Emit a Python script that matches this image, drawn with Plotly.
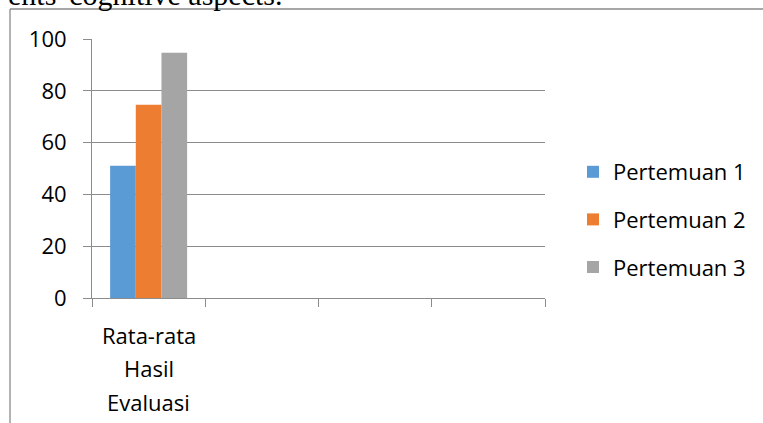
import plotly.graph_objects as go

# ---- data ----
categories = ["Rata-rata Hasil Evaluasi"]
series_names = ["Pertemuan 1", "Pertemuan 2", "Pertemuan 3"]
series_values = [[51.1], [74.6], [94.7]]
series_colors = ["#5B9BD5", "#ED7D31", "#A5A5A5"]
y_ticks = [0, 20, 40, 60, 80, 100]
n_slots = 4  # Excel category slots (only the first holds data)
caption_text = "ents' cognitive aspects."

FONT = "'Open Sans', Lato, sans-serif"
GRID = "#8C8C8C"

# plot-area pixel geometry (763 x 423 canvas)
L, R, T, B = 92, 218, 39, 125
W = 763 - L - R
H = 423 - T - B


def px_x(p):
    return (p - L) / W


def px_y(p):
    return (423 - B - p) / H


fig = go.Figure()
for i, (name, vals, col) in enumerate(zip(series_names, series_values, series_colors)):
    fig.add_trace(go.Bar(
        x=list(range(len(vals))), y=vals, name=name,
        marker=dict(color=col, line=dict(width=0)),
        legendgroup=f"g{i}",
    ))

fig.update_layout(
    width=763, height=423,
    margin=dict(l=L, r=R, t=T, b=B),
    paper_bgcolor="white", plot_bgcolor="white",
    barmode="group", bargap=0.32, bargroupgap=0,
    font=dict(family=FONT, size=22, color="#000000"),
    showlegend=True,
    legend=dict(
        x=px_x(573), xanchor="left",
        y=px_y(151), yanchor="top",
        font=dict(family=FONT, size=22, color="#000000"),
        traceorder="grouped", tracegroupgap=16,
        bgcolor="rgba(0,0,0,0)",
    ),
    xaxis=dict(
        range=[-0.5, n_slots - 0.5],
        tickmode="array",
        tickvals=[k - 0.5 for k in range(n_slots + 1)],
        ticktext=["" for _ in range(n_slots + 1)],
        ticks="outside", ticklen=8, tickcolor=GRID, tickwidth=1,
        showline=True, linecolor=GRID, linewidth=1,
        showgrid=False, zeroline=False, fixedrange=True,
    ),
    yaxis=dict(
        range=[0, 100],
        tickmode="array", tickvals=y_ticks,
        ticktext=[str(v) for v in y_ticks],
        ticks="outside", ticklen=8, tickcolor=GRID, tickwidth=1,
        ticklabelstandoff=12,
        showline=True, linecolor=GRID, linewidth=1,
        showgrid=True, gridcolor=GRID, gridwidth=1,
        zeroline=False, fixedrange=True,
        tickfont=dict(family=FONT, size=22, color="#000000"),
    ),
)

# category label split across three lines (Excel wrapping)
line_pix = [335, 368, 402]
words = categories[0].split(" ")
for word, py in zip(words, line_pix):
    fig.add_annotation(
        x=0, xref="x", y=px_y(py), yref="paper",
        text=word, showarrow=False, xanchor="center", yanchor="middle",
        font=dict(family=FONT, size=22, color="#000000"),
    )

# chart frame (left and top edges visible)
fig.add_shape(type="line", xref="paper", yref="paper",
              x0=px_x(10), x1=px_x(10), y0=px_y(9), y1=px_y(440),
              line=dict(color="#8A8A8A", width=1.3))
fig.add_shape(type="line", xref="paper", yref="paper",
              x0=px_x(10), x1=px_x(780), y0=px_y(9), y1=px_y(9),
              line=dict(color="#8A8A8A", width=1.3))

# clipped caption of the surrounding document
fig.add_annotation(
    x=px_x(285), xref="paper", y=px_y(-5), yref="paper",
    text=caption_text, showarrow=False, xanchor="right", yanchor="middle",
    font=dict(family="'Liberation Serif', 'Times New Roman', serif", size=30, color="#000000"),
)

fig.write_html("out.html")
